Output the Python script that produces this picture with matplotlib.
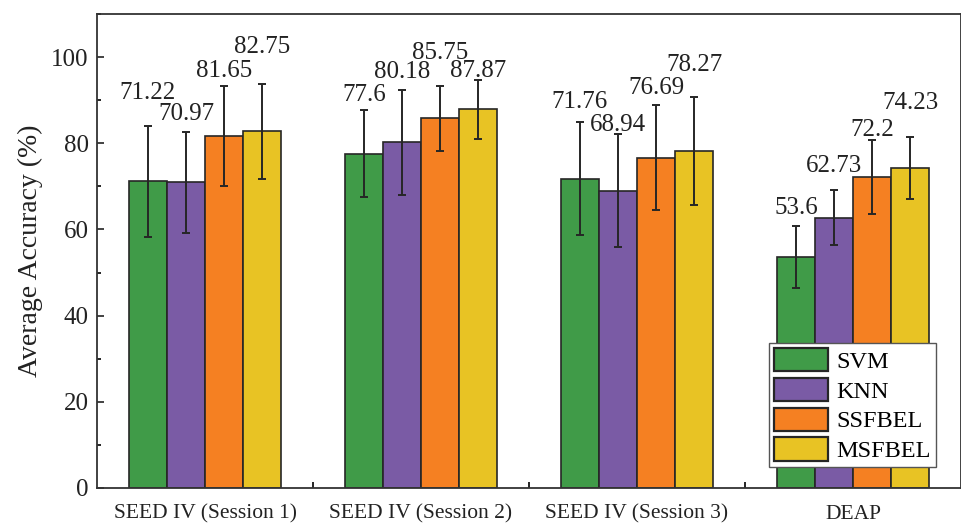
import matplotlib
matplotlib.use("Agg")
import matplotlib.pyplot as plt
import numpy as np

plt.rcParams['font.family'] = ['Liberation Serif', 'DejaVu Serif']

groups = ["SEED IV (Session 1)", "SEED IV (Session 2)", "SEED IV (Session 3)", "DEAP"]
methods = ["SVM", "KNN", "SSFBEL", "MSFBEL"]

svm = [71.22, 77.6, 71.76, 53.6]
knn = [70.97, 80.18, 68.94, 62.73]
ssfbel = [81.65, 85.75, 76.69, 72.2]
msfbel = [82.75, 87.87, 78.27, 74.23]

svm_err = [12.9, 10.1, 13.1, 7.3]
knn_err = [11.7, 12.1, 13.1, 6.4]
ssfbel_err = [11.6, 7.6, 12.1, 8.5]
msfbel_err = [11.0, 6.8, 12.5, 7.2]

# vertical placement of the value labels (layout)
label_y = [
    [91.6, 91.2, 89.6, 65.0],
    [86.8, 96.5, 84.2, 74.7],
    [96.8, 100.9, 92.8, 83.1],
    [102.3, 96.8, 98.1, 89.3],
]

colors = ["#409B48", "#7A5BA5", "#F58022", "#E8C324"]
edge = "#262626"

series = [svm, knn, ssfbel, msfbel]
errs = [svm_err, knn_err, ssfbel_err, msfbel_err]

fig = plt.figure(figsize=(9.62, 5.25), dpi=100)
ax = fig.add_axes([97/962, 37/525, 864/962, 474/525])

x = np.arange(1, len(groups) + 1)
w = 0.176
offsets = (np.arange(4) - 1.5) * w

for i, (vals, er) in enumerate(zip(series, errs)):
    ax.bar(x + offsets[i], vals, width=w, color=colors[i], edgecolor=edge,
           linewidth=1.2, label=methods[i], zorder=2)
    ax.errorbar(x + offsets[i], vals, yerr=er, fmt='none', ecolor=edge,
                elinewidth=1.4, capsize=2.8, capthick=1.4, zorder=3)
    for j, v in enumerate(vals):
        ax.text(x[j] + offsets[i], label_y[i][j], f"{v:g}", ha='center',
                va='center', fontsize=18, color='#222222', zorder=4)

ax.set_xlim(0.5, 4.5)
ax.set_ylim(0, 110)
ax.set_xticks(x)
ax.set_xticklabels(groups, fontsize=15.5)
ax.set_xticks([1.5, 2.5, 3.5], minor=True)
ax.set_yticks([0, 20, 40, 60, 80, 100])
ax.set_yticks([10, 30, 50, 70, 90, 110], minor=True)
ax.tick_params(axis='y', which='major', direction='in', length=5, width=1.2,
               labelsize=18, pad=6, colors='#222222')
ax.tick_params(axis='y', which='minor', direction='in', length=3, width=1.2)
ax.tick_params(axis='x', which='major', length=0, pad=12, labelsize=15.5,
               colors='#222222')
ax.tick_params(axis='x', which='minor', direction='in', length=4, width=1.2)
for s in ax.spines.values():
    s.set_linewidth(1.3)
    s.set_color('#333333')

ax.set_ylabel("Average Accuracy (%)", fontsize=20, color='#222222', labelpad=6)

leg = ax.legend(loc='lower right', bbox_to_anchor=(0.9705, 0.044),
                borderaxespad=0, fontsize=17.5, frameon=True, fancybox=False,
                edgecolor='#555555', framealpha=1, handlelength=2.2,
                handleheight=1.1, labelspacing=0.2, handletextpad=0.35,
                borderpad=0.2)
leg.get_frame().set_linewidth(1.0)
for h in leg.legend_handles:
    h.set_linewidth(1.6)

fig.savefig("out.png", dpi=100)
